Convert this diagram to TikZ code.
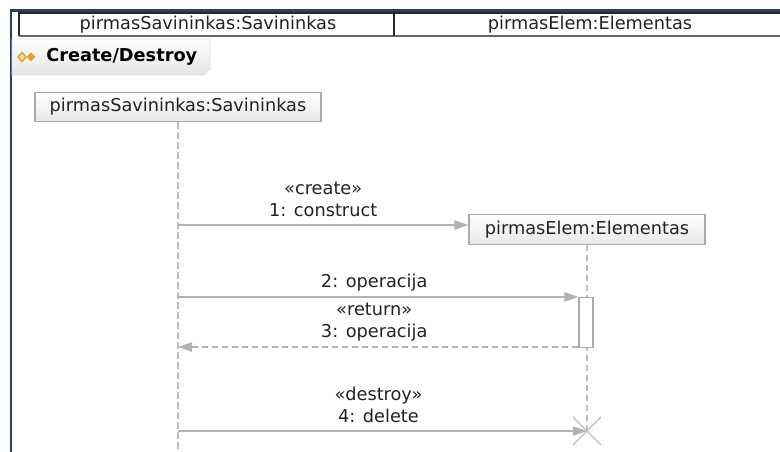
\documentclass[tikz,border=0pt]{standalone}
\usepackage{fontspec}
\setmainfont{DejaVu Sans}
\usetikzlibrary{arrows.meta,calc}
\definecolor{framecol}{RGB}{44,58,108}
\definecolor{boxline}{RGB}{170,170,170}
\definecolor{msgline}{RGB}{178,178,178}
\definecolor{lifecol}{RGB}{190,190,190}
\definecolor{txtcol}{RGB}{35,35,35}
\definecolor{orangeA}{RGB}{232,160,40}
\definecolor{orangeB}{RGB}{250,225,160}
\tikzset{
  px/.style={x=0.75pt,y=-0.75pt},
  lbl/.style={font=\fontsize{13.3}{16.5}\selectfont, text=txtcol, inner sep=0pt},
  lifebox/.style={draw=boxline, line width=0.9pt, top color=white, bottom color=black!9,
     minimum height=22pt, inner sep=0pt, lbl},
  lifeline/.style={draw=lifecol, line width=1pt, dash pattern=on 5pt off 2.5pt},
  msg/.style={draw=msgline, line width=1.1pt, -{Triangle[length=10.5pt,width=7pt,fill=msgline]}},
  retmsg/.style={msg, dash pattern=on 4.5pt off 3pt},
  msglbl/.style={lbl, align=center},
  activation/.style={draw=boxline, line width=0.9pt, fill=white, minimum width=10.5pt,
     minimum height=38pt, inner sep=0pt},
}
\begin{document}
\begin{tikzpicture}[px]
\useasboundingbox (0,0) rectangle (780,452);
\clip (0,0) rectangle (780,452);
\fill[white] (0,0) rectangle (780,452);
% frame
\draw[framecol, line width=1.6pt] (11,452) -- (11,10.5) -- (790,10.5);
% header row
\draw[black!85, line width=0.9pt] (19,36) -- (19,13) -- (790,13);
\draw[black!60, line width=1.1pt] (19,36) -- (790,36);
\draw[black!85, line width=0.9pt] (394,13) -- (394,36);
\node[lbl] (h1) at (208,24.5) {pirmasSavininkas:Savininkas};
\node[lbl] (h2) at (590,24.5) {pirmasElem:Elementas};
% tab
\shade[top color=white, bottom color=black!10, draw=black!12, line width=0.6pt]
  (12,39) -- (210,39) -- (210,69) -- (204,75) -- (12,75) -- cycle;
\draw[orangeA, fill=orangeB, line width=1pt] (22,52.5) -- (26,57) -- (22,61.5) -- (18,57) -- cycle;
\fill[orangeA] (31,52.5) -- (35.5,57) -- (31,61.5) -- (26.5,57) -- cycle;
\node[lbl, font=\fontsize{13.3}{16.5}\selectfont\bfseries, anchor=west, text=black] (tab) at (46,57) {Create/Destroy};
% lifeline heads
\node[lifebox, minimum width=214.5pt] (L1) at (178,107) {pirmasSavininkas:Savininkas};
\node[lifebox, minimum width=177pt] (L2) at (587,229.5) {pirmasElem:Elementas};
% coordinates
\coordinate (e1) at (178,452);
\coordinate (x4) at (587,431);
\coordinate (s1) at (178,225);
\coordinate (s2) at (178,297);
\coordinate (s3) at (178,347);
\coordinate (s4) at (178,431);
% lifelines
\draw[lifeline] (L1.south) -- (e1);
\draw[lifeline] (L2.south) -- (x4);
% activation
\node[activation] (act) at (586,322.5) {};
% messages
\draw[msg] (s1) -- (s1 -| L2.west)
  node[msglbl, midway, above=5.3pt] (t1) {«create»\\1: construct};
\draw[msg] (s2) -- (s2 -| act.west)
  node[msglbl, midway, above=3.5pt, xshift=-3pt] (t2) {2: operacija};
\draw[retmsg] (s3 -| act.west) -- (s3)
  node[msglbl, midway, above=3.8pt, xshift=-3pt] (t3) {«return»\\3: operacija};
\draw[msg] (s4) -- (x4)
  node[msglbl, midway, above=6pt, xshift=-3pt] (t4) {«destroy»\\4: delete};
% destroy mark
\draw[lifecol, line width=1pt] ($(x4)+(-14,-14)$) -- ($(x4)+(14,14)$);
\draw[lifecol, line width=1pt] ($(x4)+(-14,14)$) -- ($(x4)+(14,-14)$);
\end{tikzpicture}
\end{document}
